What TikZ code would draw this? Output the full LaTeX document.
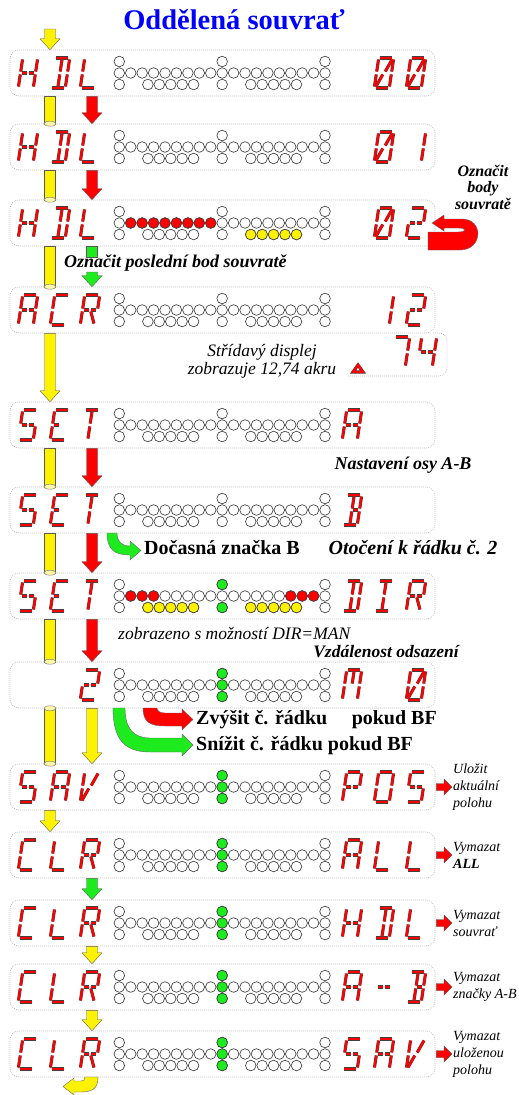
\documentclass[tikz,border=0pt]{standalone}
\usepackage{fontspec}
\setmainfont{Liberation Serif}
\usetikzlibrary{calc,positioning}

\definecolor{ledgreen}{RGB}{30,235,30}

\tikzset{lcdseg/.style={draw=black!75, line width=0.4pt, double=red, double distance=2.3pt}}

% segments of one display character (local units, centre at 0,0)
\newcommand{\defseg}[2]{\expandafter\def\csname lcdseg-#1\endcsname{\draw[lcdseg] #2;}}
\defseg{a}{(-6,15)--(6,15)}
\defseg{d}{(-6,-15)--(6,-15)}
\defseg{b}{(7.5,13.5)--(7.5,1.5)}
\defseg{c}{(7.5,-1.5)--(7.5,-13.5)}
\defseg{f}{(-7.5,13.5)--(-7.5,1.5)}
\defseg{e}{(-7.5,-1.5)--(-7.5,-13.5)}
\defseg{g}{(-6,0)--(-1,0)}
\defseg{h}{(1,0)--(6,0)}
\defseg{i}{(0,13.5)--(0,1.5)}
\defseg{l}{(0,-1.5)--(0,-13.5)}
\defseg{j}{(1,1.5)--(6,13.5)}
\defseg{k}{(-6,-13.5)--(-1,-1.5)}
\defseg{m}{(1,-1.5)--(6,-13.5)}

\newcommand{\defglyph}[2]{\expandafter\def\csname glyph-#1\endcsname{#2}}
\defglyph{H}{b,c,e,f,g,h}
\defglyph{D}{a,b,c,d,i,l}
\defglyph{L}{d,e,f}
\defglyph{0}{a,b,c,d,e,f,j,k}
\defglyph{1}{b,c}
\defglyph{2}{a,b,g,h,e,d}
\defglyph{7}{a,b,c}
\defglyph{4}{f,g,h,b,c}
\defglyph{A}{a,b,c,e,f,g,h}
\defglyph{C}{a,d,e,f}
\defglyph{R}{a,b,e,f,g,h,m}
\defglyph{S}{a,f,g,h,c,d}
\defglyph{E}{a,d,e,f,g}
\defglyph{T}{a,i,l}
\defglyph{B}{a,b,c,d,i,l,h}
\defglyph{I}{a,d,i,l}
\defglyph{M}{a,b,c,e,f,i}
\defglyph{P}{a,b,e,f,g,h}
\defglyph{O}{a,b,c,d,e,f}
\defglyph{V}{e,f,k,j}
\defglyph{-}{g,h}

\newcommand{\lcd}[3]{%
  \begin{scope}[shift={(#1,#2)}, x=1pt, y=1pt, xslant=0.15]
    \expandafter\let\expandafter\lcdlist\csname glyph-#3\endcsname
    \foreach \s in \lcdlist {\csname lcdseg-\s\endcsname}
  \end{scope}}
\newcommand{\lcdrow}[2]{\foreach \cx/\cg in {#2} {\lcd{\cx}{#1}{\cg}}}

% the lamp field of one display
\newcommand{\ledgrid}[1]{%
  \foreach \c in {0,...,18} \draw[led] (119.3+\c*11.43,#1) circle[radius=5.3pt];
  \foreach \c in {0,9,18} {\draw[led] (119.3+\c*11.43,#1-11.5) circle[radius=5.3pt];
    \draw[led] (119.3+\c*11.43,#1+11.5) circle[radius=5.3pt];}
  \foreach \c in {2.5,3.5,4.5,5.5,6.5,11.5,12.5,13.5,14.5,15.5}
    \draw[led] (119.3+\c*11.43,#1+11.5) circle[radius=5.3pt];}
\newcommand{\ledon}[3]{\foreach \c/\o in {#2} \draw[led, fill=#3] (119.3+\c*11.43,#1+\o*11.5) circle[radius=5.3pt];}

% block arrows
\newcommand{\blkarrow}[3]{\draw[blk, fill=#3] let \p1=#1, \p2=#2 in
  (\x1-5.5pt,\y1) -- (\x1-5.5pt,\y2+11pt) -- (\x1-10pt,\y2+11pt) -- (\x1,\y2)
  -- (\x1+10pt,\y2+11pt) -- (\x1+5.5pt,\y2+11pt) -- (\x1+5.5pt,\y1) -- cycle;}
\newcommand{\pipe}[2]{\draw[blk, fill=yellow] let \p1=#1, \p2=#2 in (\x1-5.5pt,\y1) rectangle (\x1+5.5pt,\y2);
  \draw[ring] #2 ellipse[x radius=6pt, y radius=2.5pt];}
\newcommand{\sidearrow}[2]{\draw[blk, fill=red] let \p1=#1, \p2=#2 in
  (\x1+1pt,\y1+3.5pt) -- (\x2-9pt,\y1+3.5pt) -- (\x2-9pt,\y1+8pt) -- (\x2-1pt,\y1)
  -- (\x2-9pt,\y1-8pt) -- (\x2-9pt,\y1-3.5pt) -- (\x1+1pt,\y1-3.5pt) -- cycle;}

\begin{document}
\begin{tikzpicture}[x=1pt, y=-1pt,
  edge/.style={draw=gray!75, line width=0.6pt, dash pattern=on 0.7pt off 1.3pt},
  panel/.style={edge, rounded corners=9pt, minimum width=425pt, minimum height=46pt, inner sep=0pt},
  led/.style={draw=gray!50!black, line width=0.65pt, fill=white},
  blk/.style={draw=gray!70!black, line width=0.4pt},
  band/.style={draw=black!60, line width=0.4pt},
  ring/.style={draw=gray, line width=0.5pt, fill=yellow!35},
  hint/.style={font=\bfseries\itshape\fontsize{18}{20}\selectfont, inner sep=0pt},
  bold/.style={font=\bfseries\fontsize{20}{22}\selectfont, inner sep=0pt},
  remark/.style={font=\itshape\fontsize{17.5}{18}\selectfont, align=center, inner sep=0pt},
  side/.style={font=\itshape\fontsize{14}{17}\selectfont, align=left, anchor=west, inner sep=0pt}]

\useasboundingbox (0,0) rectangle (519,1095);

\node[font=\bfseries\fontsize{28.5}{30}\selectfont, text=blue] (title) at (234,20) {Oddělená souvrať};

\foreach \k/\y in {1/73,2/147,3/223,4/310,5/425,6/510,7/596,8/685,9/787,10/855,11/923,12/987,13/1054}
  \node[panel] (r\k) at (222.5,\y) {};
\draw[edge, rounded corners=8pt] (348,376) -- (447,376) -- (447,333) -- (432,333);

% lamps
\foreach \y in {73,147,223,310,425,510,596,685,787,855,923,987,1054} \ledgrid{\y};
\ledon{223}{1/0,2/0,3/0,4/0,5/0,6/0,7/0,8/0}{red}
\ledon{223}{11.5/1,12.5/1,13.5/1,14.5/1,15.5/1}{yellow}
\ledon{596}{1/0,2/0,3/0,15/0,16/0,17/0}{red}
\ledon{596}{2.5/1,3.5/1,4.5/1,5.5/1,6.5/1,11.5/1,12.5/1,13.5/1,14.5/1,15.5/1}{yellow}
\ledon{596}{9/-1,9/1}{ledgreen}
\foreach \y in {685,787,855,923,987,1054} \ledon{\y}{9/-1,9/0,9/1}{ledgreen};

% display characters
\lcdrow{73}{28/H,60/D,90/L,384/0,416/0}
\lcdrow{147}{28/H,60/D,90/L,384/0,416/1}
\lcdrow{223}{28/H,60/D,90/L,384/0,416/2}
\lcdrow{310}{28/A,60/C,90/R,384/1,416/2}
\lcdrow{352}{400/7,427/4}
\draw[lcdseg] (353,372) -- (363,372) -- (358,365) -- cycle;
\lcdrow{425}{28/S,60/E,90/T,352/A}
\lcdrow{510}{28/S,60/E,90/T,352/B}
\lcdrow{596}{28/S,60/E,90/T,352/D,384/I,416/R}
\lcdrow{685}{90/2,352/M,416/0}
\lcdrow{787}{28/S,60/A,90/V,352/P,384/O,416/S}
\lcdrow{855}{28/C,60/L,90/R,352/A,384/L,416/L}
\lcdrow{923}{28/C,60/L,90/R,352/H,384/D,416/L}
\lcdrow{987}{28/C,60/L,90/R,352/A,384/-,416/B}
\lcdrow{1054}{28/C,60/L,90/R,352/S,384/A,416/V}

% flow arrows
\coordinate (colA) at (50,0);
\coordinate (colB) at (92,0);
\coordinate (start) at (50,29);
\blkarrow{(start)}{(r1.north -| colA)}{yellow}
\pipe{(r1.south -| colA)}{(r2.north -| colA)}
\pipe{(r2.south -| colA)}{(r3.north -| colA)}
\pipe{(r3.south -| colA)}{(r4.north -| colA)}
\blkarrow{(r4.south -| colA)}{(r5.north -| colA)}{yellow}
\pipe{(r5.south -| colA)}{(r6.north -| colA)}
\pipe{(r6.south -| colA)}{(r7.north -| colA)}
\pipe{(r7.south -| colA)}{(r8.north -| colA)}
\pipe{(r8.south -| colA)}{(r9.north -| colA)}
\draw[ring] (r8.south -| colA) ellipse[x radius=6pt, y radius=2.5pt];
\blkarrow{(r9.south -| colA)}{(r10.north -| colA)}{yellow}

\blkarrow{(r1.south -| colB)}{(r2.north -| colB)}{red}
\blkarrow{(r2.south -| colB)}{(r3.north -| colB)}{red}
\draw[blk, fill=ledgreen] ($(r3.south -| colB)+(-5.5,0)$) rectangle ($(r3.south -| colB)+(5.5,11)$);
\coordinate (gstart) at (92,272);
\blkarrow{(gstart)}{(r4.north -| colB)}{ledgreen}
\blkarrow{(r5.south -| colB)}{(r6.north -| colB)}{red}
\blkarrow{(r6.south -| colB)}{(r7.north -| colB)}{red}
\blkarrow{(r7.south -| colB)}{(r8.north -| colB)}{red}
\blkarrow{(r8.south -| colB)}{(r9.north -| colB)}{yellow}
\blkarrow{(r10.south -| colB)}{(r11.north -| colB)}{ledgreen}
\blkarrow{(r11.south -| colB)}{(r12.north -| colB)}{yellow}
\blkarrow{(r12.south -| colB)}{(r13.north -| colB)}{yellow}

% curved arrows
\draw[band, fill=red] (428,250) -- (460,250) .. controls (483,250) and (484,219) .. (462,219)
  -- (444,219) -- (444,215) -- (432,223) -- (444,231) -- (444,228) -- (458,228)
  .. controls (467,228) and (467,232) .. (458,232) -- (428,232) -- cycle;
\draw[band, fill=ledgreen] (107,533) .. controls (107,550) and (115,555) .. (130,555) -- (130,560)
  -- (141,550.5) -- (130,541) -- (130,546) .. controls (122,546) and (117,542) .. (117,533) -- cycle;
\draw[band, fill=ledgreen] (113,708) .. controls (113,740) and (125,752) .. (150,752) -- (182,752)
  -- (182,756) -- (193,745) -- (182,734) -- (182,738) -- (150,738) .. controls (133,738) and (125,728) .. (125,708) -- cycle;
\draw[band, fill=red] (143,708) .. controls (143,722) and (150,726) .. (165,726) -- (182,726)
  -- (182,730) -- (193,719.5) -- (182,709) -- (182,713) -- (165,713) .. controls (160,713) and (157,711) .. (157,708) -- cycle;
\draw[band, fill=yellow] (98,1077) .. controls (98,1089) and (92,1092) .. (80,1092) -- (74,1092)
  -- (74,1095) -- (63,1086.5) -- (74,1078) -- (74,1081) -- (80,1081) .. controls (84,1081) and (85,1080) .. (85,1077) -- cycle;

% texts
\node[hint, align=center, font=\bfseries\itshape\fontsize{16}{16.5}\selectfont] (mark) at (483,187) {Označit\\body\\souvratě};
\node[hint, anchor=west] (last) at (64,263) {Označit poslední bod souvratě};
\node[remark] (alt) at (262,361) {Střídavý displej\\zobrazuje 12,74 akru};
\node[hint] (axis) at (403,465) {Nastavení osy A-B};
\node[bold, anchor=west] (tmpB) at (144,548) {Dočasná značka B};
\node[hint, font=\bfseries\itshape\fontsize{20}{22}\selectfont] (turn) at (413,548) {Otočení k řádku č. 2};
\node[remark, anchor=west] (dirman) at (118,633) {zobrazeno s možností DIR=MAN};
\node[hint, font=\bfseries\itshape\fontsize{17.5}{20}\selectfont] (offs) at (386,652) {Vzdálenost odsazení};
\node[bold, anchor=west] (inc) at (196,720) {Zvýšit č. řádku};
\node[bold, anchor=east] (incbf) at (437,720) {pokud BF};
\node[bold, anchor=west] (dec) at (196,746) {Snížit č. řádku pokud BF};

\node[side] (lb9) at (453,787) {Uložit\\aktuální\\polohu};
\node[side] (lb10) at (453,855) {Vymazat\\\textbf{ALL}};
\node[side] (lb11) at (453,923) {Vymazat\\souvrať};
\node[side] (lb12) at (453,987) {Vymazat\\značky A-B};
\node[side] (lb13) at (453,1054) {Vymazat\\uloženou\\polohu};
\foreach \k in {9,...,13} \sidearrow{(r\k.east)}{(lb\k.west)};
\end{tikzpicture}
\end{document}
